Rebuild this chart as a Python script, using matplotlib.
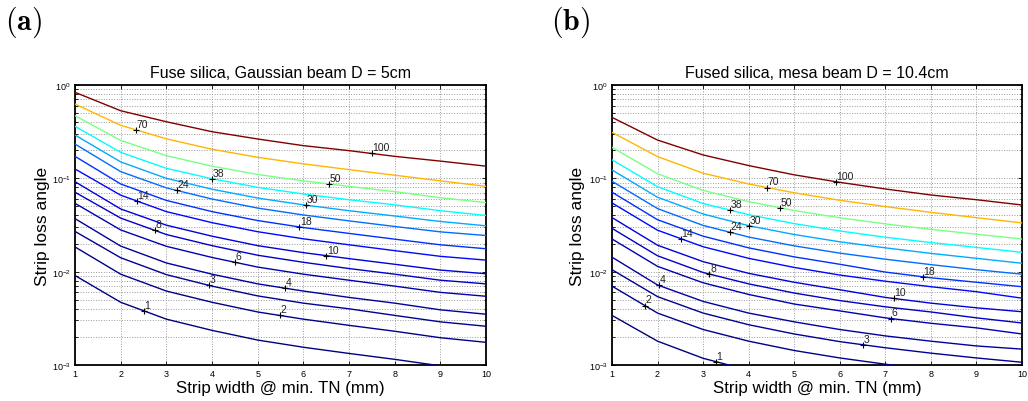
import numpy as np
import matplotlib
matplotlib.use("Agg")
import matplotlib.pyplot as plt

plt.rcParams['font.family'] = ['Liberation Sans', 'DejaVu Sans']
plt.rcParams['mathtext.fontset'] = 'custom'
plt.rcParams['mathtext.rm'] = 'Liberation Sans'

# ---------------- data ----------------
strip_width = [1, 2, 3, 4, 5, 6, 7, 8, 9, 10]
levels = [1, 2, 3, 4, 6, 8, 10, 14, 18, 24, 30, 38, 50, 70, 100]

# (a) Fused silica, Gaussian beam D = 5cm : loss angle along each contour
gauss_1 = [0.0091, 0.0047, 0.0031, 0.00235, 0.00185, 0.00155, 0.00133, 0.00115, 0.00098, 0.00088]
gauss_2 = [0.0184, 0.0094, 0.0062, 0.0047, 0.0037, 0.0031, 0.00266, 0.0023, 0.00196, 0.00175]
gauss_3 = [0.027, 0.0141, 0.0093, 0.0070, 0.0055, 0.0046, 0.0040, 0.0034, 0.0029, 0.0026]
gauss_4 = [0.037, 0.0188, 0.0124, 0.0094, 0.0074, 0.0062, 0.0053, 0.0046, 0.0039, 0.0035]
gauss_6 = [0.054, 0.028, 0.0187, 0.0142, 0.0112, 0.0094, 0.0081, 0.0070, 0.0060, 0.00545]
gauss_8 = [0.071, 0.0375, 0.025, 0.019, 0.015, 0.0126, 0.0108, 0.0094, 0.0081, 0.0074]
gauss_10 = [0.092, 0.047, 0.0315, 0.024, 0.019, 0.016, 0.0138, 0.012, 0.0104, 0.0095]
gauss_14 = [0.126, 0.066, 0.044, 0.0335, 0.0268, 0.0225, 0.0194, 0.0168, 0.0146, 0.0133]
gauss_18 = [0.172, 0.087, 0.058, 0.044, 0.0353, 0.0297, 0.0257, 0.0223, 0.0194, 0.0176]
gauss_24 = [0.233, 0.118, 0.079, 0.060, 0.048, 0.0405, 0.035, 0.0305, 0.0267, 0.0244]
gauss_30 = [0.291, 0.150, 0.100, 0.0765, 0.0615, 0.052, 0.045, 0.0395, 0.0345, 0.031]
gauss_38 = [0.361, 0.19, 0.128, 0.099, 0.080, 0.068, 0.059, 0.052, 0.045, 0.040]
gauss_50 = [0.469, 0.255, 0.175, 0.135, 0.11, 0.094, 0.082, 0.072, 0.062, 0.055]
gauss_70 = [0.625, 0.37, 0.265, 0.205, 0.168, 0.143, 0.124, 0.108, 0.094, 0.082]
gauss_100 = [0.835, 0.53, 0.404, 0.316, 0.264, 0.224, 0.198, 0.172, 0.153, 0.135]
gauss_label_x = [2.51, 5.49, 3.94, 5.6, 4.5, 2.75, 6.5, 2.35, 5.91, 3.23, 6.06, 4.0, 6.57, 2.34, 7.5]

# (b) Fused silica, mesa beam D = 10.4cm
mesa_1 = [0.0034, 0.0018, 0.00118, 0.00088, 0.0007, 0.00058, 0.0005, 0.00044, 0.00039, 0.00035]
mesa_2 = [0.0070, 0.0036, 0.0024, 0.0018, 0.00143, 0.00119, 0.00102, 0.00089, 0.00079, 0.0007]
mesa_3 = [0.0105, 0.0054, 0.0036, 0.0027, 0.00215, 0.00178, 0.00153, 0.00134, 0.00119, 0.00107]
mesa_4 = [0.0143, 0.0072, 0.0048, 0.0036, 0.0029, 0.0024, 0.00205, 0.0018, 0.0016, 0.00148]
mesa_6 = [0.0224, 0.0114, 0.0076, 0.0057, 0.0045, 0.0038, 0.0032, 0.0028, 0.0025, 0.00215]
mesa_8 = [0.0291, 0.0148, 0.0098, 0.0074, 0.0059, 0.0049, 0.0042, 0.0037, 0.0032, 0.00282]
mesa_10 = [0.038, 0.0192, 0.0128, 0.0096, 0.0077, 0.0064, 0.0053, 0.0046, 0.0041, 0.00372]
mesa_14 = [0.0545, 0.0278, 0.0185, 0.0139, 0.0111, 0.0092, 0.0079, 0.0069, 0.0061, 0.0052]
mesa_18 = [0.071, 0.036, 0.024, 0.018, 0.0144, 0.012, 0.0099, 0.0086, 0.0077, 0.0069]
mesa_24 = [0.093, 0.0474, 0.0313, 0.0235, 0.0189, 0.0158, 0.0136, 0.0119, 0.0105, 0.0094]
mesa_30 = [0.123, 0.0627, 0.0415, 0.0311, 0.025, 0.0209, 0.018, 0.0157, 0.0139, 0.0123]
mesa_38 = [0.158, 0.0814, 0.0537, 0.0408, 0.0327, 0.0273, 0.0234, 0.0205, 0.0182, 0.0161]
mesa_50 = [0.215, 0.112, 0.0742, 0.0563, 0.0452, 0.0378, 0.0325, 0.0284, 0.0252, 0.0224]
mesa_70 = [0.311, 0.171, 0.1135, 0.087, 0.07, 0.0582, 0.0498, 0.0432, 0.0379, 0.0333]
mesa_100 = [0.45, 0.257, 0.178, 0.137, 0.109, 0.0906, 0.0769, 0.0663, 0.059, 0.0518]
mesa_label_x = [3.28, 1.72, 6.5, 2.03, 7.12, 3.14, 7.19, 2.51, 7.82, 3.59, 4.01, 3.6, 4.69, 4.4, 5.91]

gauss_lines = [gauss_1, gauss_2, gauss_3, gauss_4, gauss_6, gauss_8, gauss_10, gauss_14,
               gauss_18, gauss_24, gauss_30, gauss_38, gauss_50, gauss_70, gauss_100]
mesa_lines = [mesa_1, mesa_2, mesa_3, mesa_4, mesa_6, mesa_8, mesa_10, mesa_14,
              mesa_18, mesa_24, mesa_30, mesa_38, mesa_50, mesa_70, mesa_100]

titles = ["Fuse silica, Gaussian beam D = 5cm", "Fused silica, mesa beam D = 10.4cm"]
panel_tags = ["(a)", "(b)"]


def matlab_jet(v):
    """MATLAB-style jet colour for v in [0, 1]."""
    r = np.clip(min(4 * v - 1.5, -4 * v + 4.5), 0, 1)
    g = np.clip(min(4 * v - 0.5, -4 * v + 3.5), 0, 1)
    b = np.clip(min(4 * v + 0.5, -4 * v + 2.5), 0, 1)
    return (r, g, b)


# ---------------- figure ----------------
W, H = 1028, 402
fig = plt.figure(figsize=(W / 100, H / 100), dpi=100)
lo, hi = min(levels), max(levels)


def px_axes(x0, x1, y0, y1):
    return fig.add_axes([x0 / W, 1 - y1 / H, (x1 - x0) / W, (y1 - y0) / H])


axes = [px_axes(75, 486, 86, 366), px_axes(612, 1022, 86, 366)]
panel_x = [5, 551]
ylabel_x = [-0.062, -0.066]

for ax, lines, lab_x, title, tag, px, ylx in zip(axes, [gauss_lines, mesa_lines],
                                              [gauss_label_x, mesa_label_x], titles,
                                              panel_tags, panel_x, ylabel_x):
    for lev, yv, lx in zip(levels, lines, lab_x):
        col = matlab_jet((lev - lo) / (hi - lo))
        ax.plot(strip_width, yv, color=col, lw=1.0, zorder=3)
        ly = 10 ** np.interp(lx, strip_width, np.log10(yv))
        ax.plot([lx], [ly], marker='+', color='k', ms=4, mew=0.8, zorder=4)
        ax.annotate(str(lev), (lx, ly), xytext=(0.5, 0.8), textcoords='offset points',
                    ha='left', va='bottom', fontsize=7.5, color='#222222', zorder=5)
    ax.set_yscale('log')
    ax.set_xlim(1, 10)
    ax.set_ylim(1e-3, 1e0)
    ax.set_xticks(range(1, 11))
    ax.grid(True, which='major', color='#9a9a9a', linestyle=':', linewidth=0.7)
    ax.grid(True, which='minor', axis='y', color='#9a9a9a', linestyle=':', linewidth=0.7)
    ax.tick_params(which='both', direction='in', top=True, right=True, labelsize=6.5,
                   length=3, width=0.6, pad=3)
    ax.tick_params(which='minor', length=1.8)
    for sp in ax.spines.values():
        sp.set_linewidth(1.3)
    ax.set_title(title, fontsize=11.5, pad=6)
    ax.set_xlabel("Strip width @ min. TN (mm)", fontsize=12.2, labelpad=1)
    ax.set_ylabel("Strip loss angle", fontsize=12.5)
    ax.yaxis.set_label_coords(ylx, 0.5)
    fig.text(px / W, 1 - 5 / H, r'$\mathbf{' + tag + '}$', fontsize=21.5, va='top', ha='left',
             math_fontfamily='cm')

fig.savefig("out.png", dpi=100)
